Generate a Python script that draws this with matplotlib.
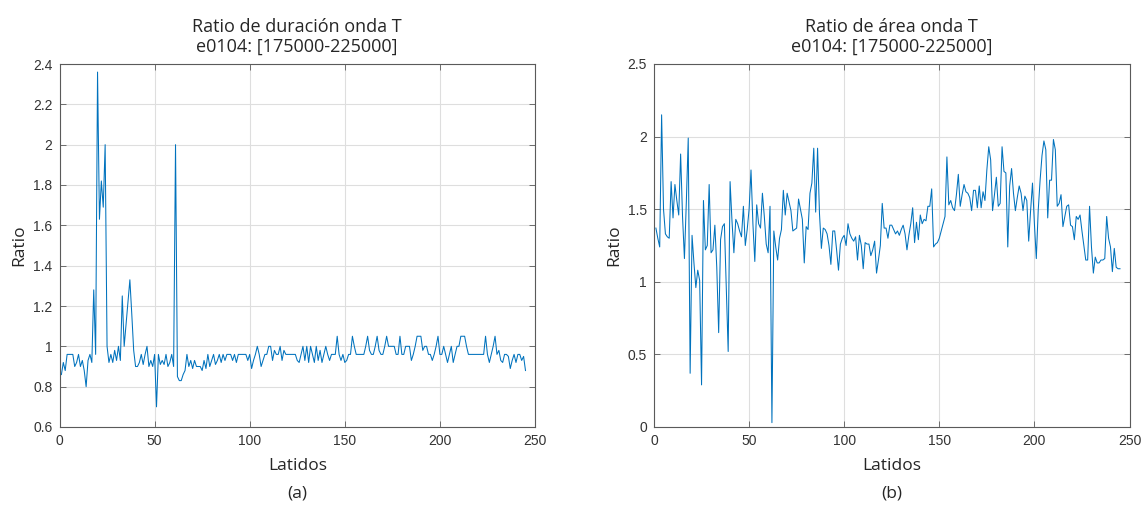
import numpy as np
import matplotlib
matplotlib.use("Agg")
import matplotlib.pyplot as plt
from matplotlib.ticker import FuncFormatter

# ---------------- data ----------------
dur_ratio = [
    0.86, 0.92, 0.88, 0.96, 0.96, 0.96, 0.96, 0.90, 0.92, 0.96,
    0.90, 0.93, 0.88, 0.80, 0.93, 0.96, 0.92, 1.28, 0.96, 2.36,
    1.63, 1.82, 1.69, 2.00, 1.00, 0.92, 0.96, 0.92, 0.98, 0.93,
    1.00, 0.93, 1.25, 1.00, 1.11, 1.22, 1.33, 1.16, 0.98, 0.90,
    0.90, 0.92, 0.96, 0.91, 0.96, 1.00, 0.90, 0.93, 0.90, 0.96,
    0.70, 0.96, 0.91, 0.93, 0.91, 0.96, 0.90, 0.92, 0.96, 0.90,
    2.00, 0.85, 0.83, 0.83, 0.86, 0.88, 0.96, 0.90, 0.93, 0.89,
    0.93, 0.90, 0.90, 0.90, 0.88, 0.93, 0.89, 0.96, 0.90, 0.93,
    0.96, 0.91, 0.93, 0.96, 0.92, 0.96, 0.93, 0.96, 0.96, 0.96,
    0.93, 0.96, 0.92, 0.96, 0.96, 0.96, 0.96, 0.96, 0.93, 0.96,
    0.89, 0.93, 0.96, 1.00, 0.96, 0.90, 0.93, 0.96, 0.96, 1.00,
    1.00, 0.93, 0.98, 0.96, 0.96, 1.00, 0.93, 0.98, 0.96, 0.96,
    0.96, 0.96, 0.96, 0.96, 0.93, 0.92, 0.96, 1.00, 0.93, 1.00,
    0.92, 1.00, 0.96, 0.92, 1.00, 0.93, 0.98, 0.92, 0.96, 1.00,
    0.96, 0.93, 0.96, 0.96, 0.96, 1.05, 0.96, 0.93, 0.96, 0.92,
    0.93, 0.96, 0.96, 1.05, 1.00, 0.96, 0.96, 0.96, 0.96, 0.96,
    1.00, 1.05, 0.98, 0.96, 0.96, 1.00, 1.05, 0.98, 0.96, 0.96,
    1.00, 1.05, 1.00, 1.00, 1.00, 1.00, 0.96, 0.96, 1.05, 0.96,
    0.96, 1.00, 1.00, 1.00, 0.93, 0.96, 1.00, 1.05, 1.05, 1.05,
    0.98, 1.00, 1.00, 0.96, 0.96, 0.93, 0.96, 1.00, 1.05, 0.96,
    0.96, 1.00, 0.96, 0.92, 0.96, 1.00, 0.92, 0.96, 1.00, 1.00,
    1.05, 1.05, 1.05, 1.00, 0.96, 0.96, 0.96, 0.96, 0.96, 0.96,
    0.96, 0.96, 0.96, 1.05, 0.96, 0.92, 0.96, 1.00, 1.05, 0.96,
    0.98, 0.93, 0.92, 0.96, 0.96, 0.95, 0.89, 0.93, 0.96, 0.92,
    0.96, 0.96, 0.93, 0.95, 0.88,
]

area_ratio = [
    1.37, 1.30, 1.24, 2.15, 1.50, 1.33, 1.31, 1.30, 1.69, 1.44,
    1.67, 1.56, 1.46, 1.88, 1.45, 1.16, 1.55, 1.99, 0.37, 1.32,
    1.13, 0.96, 1.08, 1.01, 0.29, 1.56, 1.22, 1.25, 1.67, 1.20,
    1.22, 1.39, 1.10, 0.65, 1.29, 1.38, 1.40, 0.95, 0.52, 1.69,
    1.42, 1.20, 1.43, 1.40, 1.35, 1.31, 1.52, 1.25, 1.36, 1.50,
    1.77, 1.40, 1.14, 1.53, 1.40, 1.37, 1.61, 1.45, 1.26, 1.20,
    1.52, 0.03, 1.35, 1.24, 1.15, 1.30, 1.36, 1.63, 1.46, 1.61,
    1.55, 1.49, 1.35, 1.36, 1.37, 1.57, 1.50, 1.43, 1.13, 1.38,
    1.36, 1.61, 1.68, 1.92, 1.48, 1.92, 1.47, 1.23, 1.37, 1.36,
    1.33, 1.25, 1.12, 1.35, 1.35, 1.22, 1.08, 1.26, 1.30, 1.32,
    1.25, 1.40, 1.33, 1.30, 1.28, 1.31, 1.15, 1.32, 1.25, 1.09,
    1.27, 1.26, 1.26, 1.18, 1.22, 1.28, 1.06, 1.15, 1.25, 1.54,
    1.37, 1.37, 1.30, 1.39, 1.39, 1.36, 1.33, 1.35, 1.32, 1.36,
    1.39, 1.33, 1.22, 1.32, 1.40, 1.51, 1.27, 1.41, 1.29, 1.46,
    1.40, 1.43, 1.42, 1.52, 1.52, 1.64, 1.24, 1.26, 1.27, 1.30,
    1.35, 1.40, 1.45, 1.86, 1.53, 1.56, 1.51, 1.49, 1.60, 1.74,
    1.52, 1.60, 1.67, 1.62, 1.61, 1.58, 1.49, 1.63, 1.63, 1.51,
    1.66, 1.51, 1.62, 1.56, 1.77, 1.93, 1.84, 1.49, 1.60, 1.72,
    1.52, 1.54, 1.93, 1.76, 1.75, 1.24, 1.66, 1.78, 1.61, 1.49,
    1.58, 1.66, 1.61, 1.49, 1.59, 1.56, 1.28, 1.49, 1.68, 1.40,
    1.16, 1.49, 1.70, 1.87, 1.97, 1.91, 1.44, 1.70, 1.70, 1.98,
    1.91, 1.52, 1.54, 1.60, 1.38, 1.45, 1.52, 1.53, 1.39, 1.38,
    1.29, 1.45, 1.43, 1.46, 1.35, 1.25, 1.15, 1.15, 1.52, 1.24,
    1.06, 1.17, 1.13, 1.13, 1.15, 1.15, 1.16, 1.45, 1.30, 1.24,
    1.07, 1.23, 1.10, 1.09, 1.09,
]

titles = ["Ratio de duración onda T\ne0104: [175000-225000]",
          "Ratio de área onda T\ne0104: [175000-225000]"]
xlabel = "Latidos"
ylabel = "Ratio"
panel_labels = ["(a)", "(b)"]
xticks = [0, 50, 100, 150, 200, 250]
yticks_a = [0.6, 0.8, 1.0, 1.2, 1.4, 1.6, 1.8, 2.0, 2.2, 2.4]
yticks_b = [0, 0.5, 1.0, 1.5, 2.0, 2.5]

# ---------------- style ----------------
LINE = "#0072BD"
TXT = "#262626"
label_font = "Open Sans"
tick_font = "Liberation Sans"

fig = plt.figure(figsize=(11.46, 5.05), dpi=100)
W, H = 1146, 505
axes = [fig.add_axes([59.5 / W, 78 / H, 475.5 / W, 363 / H]),
        fig.add_axes([654 / W, 78 / H, 475.5 / W, 363 / H])]

series = [dur_ratio, area_ratio]
yticks_all = [yticks_a, yticks_b]

for ax, data, title, yt, pl in zip(axes, series, titles, yticks_all, panel_labels):
    x = np.arange(1, len(data) + 1)
    ax.plot(x, data, color=LINE, lw=0.75)
    ax.set_xlim(0, 250)
    ax.set_ylim(yt[0], yt[-1])
    ax.set_xticks(xticks)
    ax.set_yticks(yt)
    ax.yaxis.set_major_formatter(FuncFormatter(lambda v, p: "%g" % round(v, 2)))
    ax.grid(True, color="#dedede", lw=0.8)
    ax.set_axisbelow(True)
    for s in ax.spines.values():
        s.set_color("#5a5a5a")
        s.set_linewidth(0.8)
    ax.tick_params(direction="in", top=True, right=True, length=4, width=0.6,
                   color="#5a5a5a", labelcolor="#333333", labelsize=10, pad=5)
    for lab in ax.get_xticklabels() + ax.get_yticklabels():
        lab.set_fontfamily(tick_font)
    ax.set_title(title, fontfamily=label_font, fontsize=13, color=TXT, pad=9,
                 linespacing=1.1)
    ax.set_xlabel(xlabel, fontfamily=label_font, fontsize=12.5, color=TXT, labelpad=7)
    ax.set_ylabel(ylabel, fontfamily=label_font, fontsize=12.5, color=TXT, labelpad=4)
    pos = ax.get_position()
    fig.text(pos.x0 + pos.width / 2, 1 - 493 / H, pl, ha="center", va="center",
             fontfamily=label_font, fontsize=12.5, color=TXT)

fig.savefig("out.png", dpi=100)
